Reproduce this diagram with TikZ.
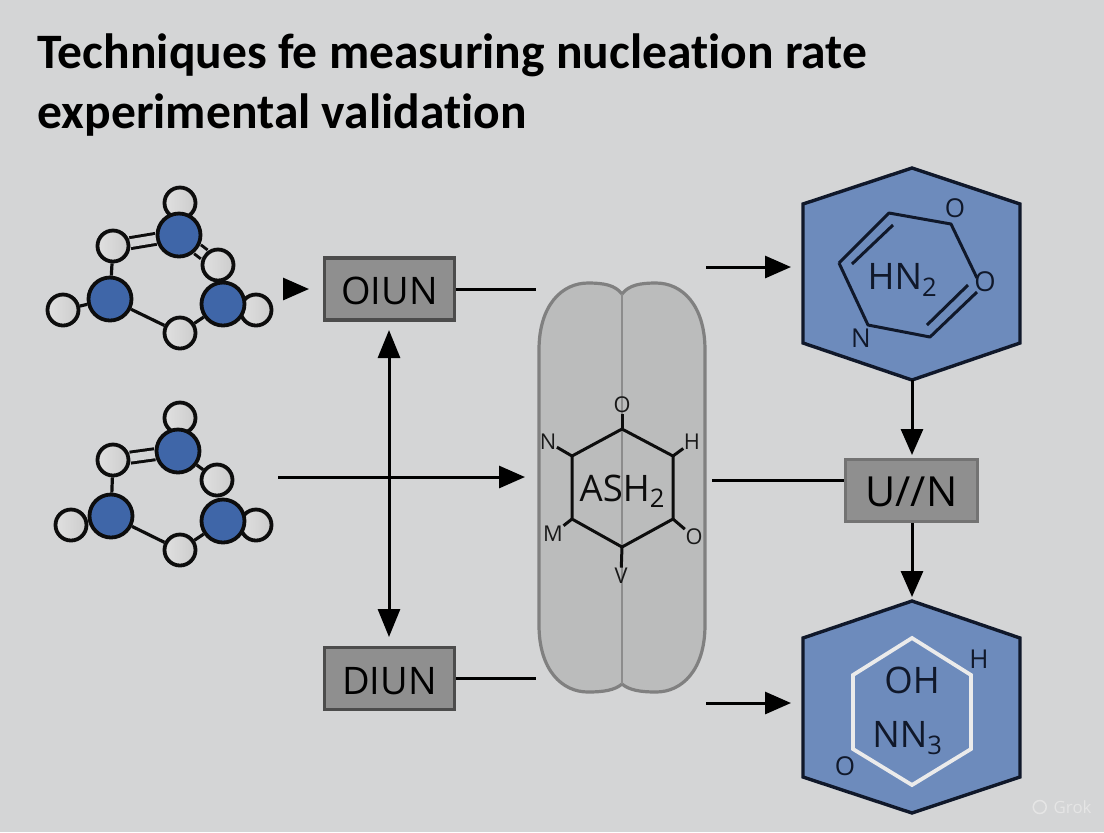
\documentclass[tikz,border=0pt]{standalone}
\usepackage{fontspec}
\setmainfont{Open Sans}
\newfontfamily\titlefont[Ligatures=NoCommon]{Carlito}
\usetikzlibrary{arrows.meta,positioning}
\definecolor{paper}{HTML}{D4D5D6}
\definecolor{atomblue}{HTML}{3F66A8}
\definecolor{hexblue}{HTML}{6D8BBC}
\definecolor{inkblue}{HTML}{10182A}
\definecolor{boxgray}{HTML}{8F8F8F}
\definecolor{capsgray}{HTML}{BBBCBC}

\begin{document}
\begin{tikzpicture}[
    x=0.1mm, y=-0.1mm,
    atom/.style={draw=black!95, circle, minimum size=3.1mm, inner sep=0pt, line width=0.38mm, left color=black!12, right color=black!20},
    core/.style={draw=black!95, circle, minimum size=4.3mm, inner sep=0pt, line width=0.38mm, fill=atomblue},
    bond/.style={line width=0.32mm, black!95},
    dbond/.style={line width=0.3mm, draw=black!95, double=paper, double distance=0.8mm},
    unit/.style={draw=black!70, rectangle, minimum width=13mm, minimum height=6.2mm, inner sep=0pt, line width=0.32mm, fill=boxgray, text height=3.1mm, text depth=0pt, font=\fontsize{10.8pt}{12pt}\selectfont},
    edge/.style={-{Stealth[length=2.6mm,width=2.2mm,inset=0pt]}, line width=0.3mm, black},
    dualedge/.style={edge, {Stealth[length=2.8mm,width=2.2mm,inset=0pt]}-{Stealth[length=2.8mm,width=2.2mm,inset=0pt]}},
    plain/.style={line width=0.3mm, black},
    hexcell/.style={draw=inkblue, line width=0.34mm, fill=hexblue, line join=miter},
    ringline/.style={line width=0.3mm, inkblue, line join=round},
    ringtext/.style={inner sep=0pt, text=inkblue, font=\fontsize{10.4pt}{12pt}\selectfont},
    smalltext/.style={inner sep=0pt, text=black!90, font=\fontsize{6.2pt}{7pt}\selectfont},
    sidetext/.style={inner sep=0pt, text=inkblue, font=\fontsize{7.4pt}{8pt}\selectfont},
    title/.style={anchor=west, inner sep=0pt, text=black, font=\titlefont\fontsize{14.1pt}{16pt}\selectfont\bfseries},
]

\fill[paper] (0,0) rectangle (1104,832);
\useasboundingbox (0,0) rectangle (1104,832);

\node[title] (titlea) at (37,55) {Techniques fe measuring nucleation rate};
\node[title] (titleb) at (37,115) {experimental validation};

% Upper molecule
\node[atom] (a1) at (180,203) {};
\node[atom] (a2) at (113,246) {};
\node[atom] (a3) at (218,265) {};
\node[atom] (a4) at (63,310) {};
\node[atom] (a5) at (256,310) {};
\node[atom] (a6) at (180,333) {};
\node[core] (c1) at (179,235) {};
\node[core] (c2) at (110,299) {};
\node[core] (c3) at (223,304) {};
\draw[dbond] (a2) -- (c1);
\draw[dbond] (c1) -- (a3);
\draw[bond] (a2) -- (c2);
\draw[bond] (a4) -- (c2);
\draw[bond] (c2) -- (a6);
\draw[bond] (a6) -- (c3);

% Lower molecule
\node[atom] (b1) at (180,418) {};
\node[atom] (b2) at (113,460) {};
\node[atom] (b3) at (217,480) {};
\node[atom] (b4) at (71,525) {};
\node[atom] (b5) at (256,525) {};
\node[atom] (b6) at (180,550) {};
\node[core] (d1) at (178,451) {};
\node[core] (d2) at (111,516) {};
\node[core] (d3) at (223,521) {};
\draw[dbond] (b2) -- (d1);
\draw[bond] (d1) -- (b3);
\draw[bond] (b2) -- (d2);
\draw[bond] (b4) -- (d2);
\draw[bond] (d2) -- (b6);
\draw[bond] (b6) -- (d3);

% Capsule
\draw[line width=0.32mm, draw=black!50, fill=capsgray]
    (539,350) .. controls (539,305) and (562,283) .. (588,283)
    .. controls (604,283) and (615,285) .. (622,294)
    .. controls (629,285) and (640,283) .. (656,283)
    .. controls (682,283) and (705,305) .. (705,350)
    -- (705,625)
    .. controls (705,670) and (682,692) .. (656,692)
    .. controls (640,692) and (629,690) .. (622,684)
    .. controls (615,690) and (604,692) .. (588,692)
    .. controls (562,692) and (539,670) .. (539,625) -- cycle;
\draw[line width=0.28mm, black!45] (622,294) -- (622,684);

% Ring in the capsule
\draw[ringline, black!95] (622,429) -- (673,456) -- (673,519) -- (622,547) -- (572,519) -- (572,456) -- cycle;
\node[ringtext, text=black!95] (ash) at (623,491) {ASH\textsubscript{2}};
\node[smalltext] (s1) at (622,405) {O};
\node[smalltext] (s2) at (548,442) {N};
\node[smalltext] (s3) at (692,442) {H};
\node[smalltext] (s4) at (553,534) {M};
\node[smalltext] (s5) at (694,537) {O};
\node[smalltext] (s6) at (621,576) {V};
\coordinate (r1) at (622,429);
\coordinate (r2) at (572,456);
\coordinate (r3) at (673,456);
\coordinate (r4) at (572,519);
\coordinate (r5) at (673,519);
\coordinate (r6) at (622,547);
\draw[ringline, black!95] (r1) -- (s1);
\draw[ringline, black!95] (r2) -- (s2);
\draw[ringline, black!95] (r3) -- (s3);
\draw[ringline, black!95] (r4) -- (s4);
\draw[ringline, black!95] (r5) -- (s5);
\draw[ringline, black!95] (r6) -- (s6);

% Boxes
\node[unit] (oiun) at (389.5,289) {OIUN};
\node[unit] (diun) at (389.5,678.5) {DIUN};
\node[unit, draw=black!55, minimum width=13.2mm, font=\fontsize{11.8pt}{13pt}\selectfont] (unn) at (911.5,490.5) {U//N};

% Upper hexagon
\draw[hexcell] (912,168) -- (1020,204) -- (1020,343) -- (912,380) -- (803,343) -- (803,204) -- cycle;
\coordinate (hexaS) at (912,380);
\draw[ringline] (839,263) -- (889,213) -- (951,224) -- (977,278);
\draw[ringline] (977,292) -- (930,337) -- (868,325) -- (839,263);
\draw[ringline] (852,264) -- (893,225);
\draw[ringline] (927,325) -- (968,285);
\node[ringtext] (hn) at (903,280) {HN\textsubscript{2}};
\node[sidetext] (o1) at (955,208) {O};
\node[sidetext, font=\fontsize{7.8pt}{8pt}\selectfont] (o2) at (985,282) {O};
\node[sidetext] (n1) at (861,338) {N};

% Lower hexagon
\draw[hexcell] (912,601) -- (1020,638) -- (1020,777) -- (912,813) -- (803,777) -- (803,638) -- cycle;
\coordinate (hexbN) at (912,597);
\draw[line width=0.38mm, draw=black!8, line join=miter] (912,638) -- (971,675) -- (971,749) -- (912,785) -- (853,749) -- (853,675) -- cycle;
\node[ringtext] (oh) at (912,680) {OH};
\node[ringtext] (nn) at (908,738) {NN\textsubscript{3}};
\node[sidetext] (h1) at (979,659) {H};
\node[sidetext] (o3) at (845,766) {O};

% Free ends
\coordinate (p1) at (285,289);
\coordinate (p2) at (309,289);
\coordinate (p3) at (278,477);
\coordinate (p4) at (525,477);
\coordinate (p5) at (536,288);
\coordinate (p6) at (536,678);
\coordinate (p7) at (706,267);
\coordinate (p8) at (791,267);
\coordinate (p9) at (712,480);
\coordinate (p10) at (706,703);
\coordinate (p11) at (791,703);
\coordinate (p12) at (389,330);
\coordinate (p13) at (389,637);
\coordinate (p14) at (912,455);

% Edges
\draw[edge] (p1) -- (p2);
\draw[edge] (p3) -- (p4);
\draw[dualedge] (p12) -- (p13);
\draw[plain] (oiun) -- (oiun -| p5);
\draw[plain] (diun) -- (diun -| p6);
\draw[edge] (p7) -- (p8);
\draw[edge] (p10) -- (p11);
\draw[plain] (p9) -- (p9 -| unn.west);
\draw[edge] (hexaS) -- (p14);
\draw[edge] (unn.south -| hexbN) -- (hexbN);

% Watermark
\node[anchor=west, inner sep=0pt, text=black!10, font=\fontsize{4.8pt}{5pt}\selectfont] (grok) at (1053,807) {Grok};
\node[draw=black!10, circle, minimum size=1.3mm, inner sep=0pt, line width=0.15mm, left=0.6mm of grok] (grokmark) {};

\end{tikzpicture}
\end{document}
